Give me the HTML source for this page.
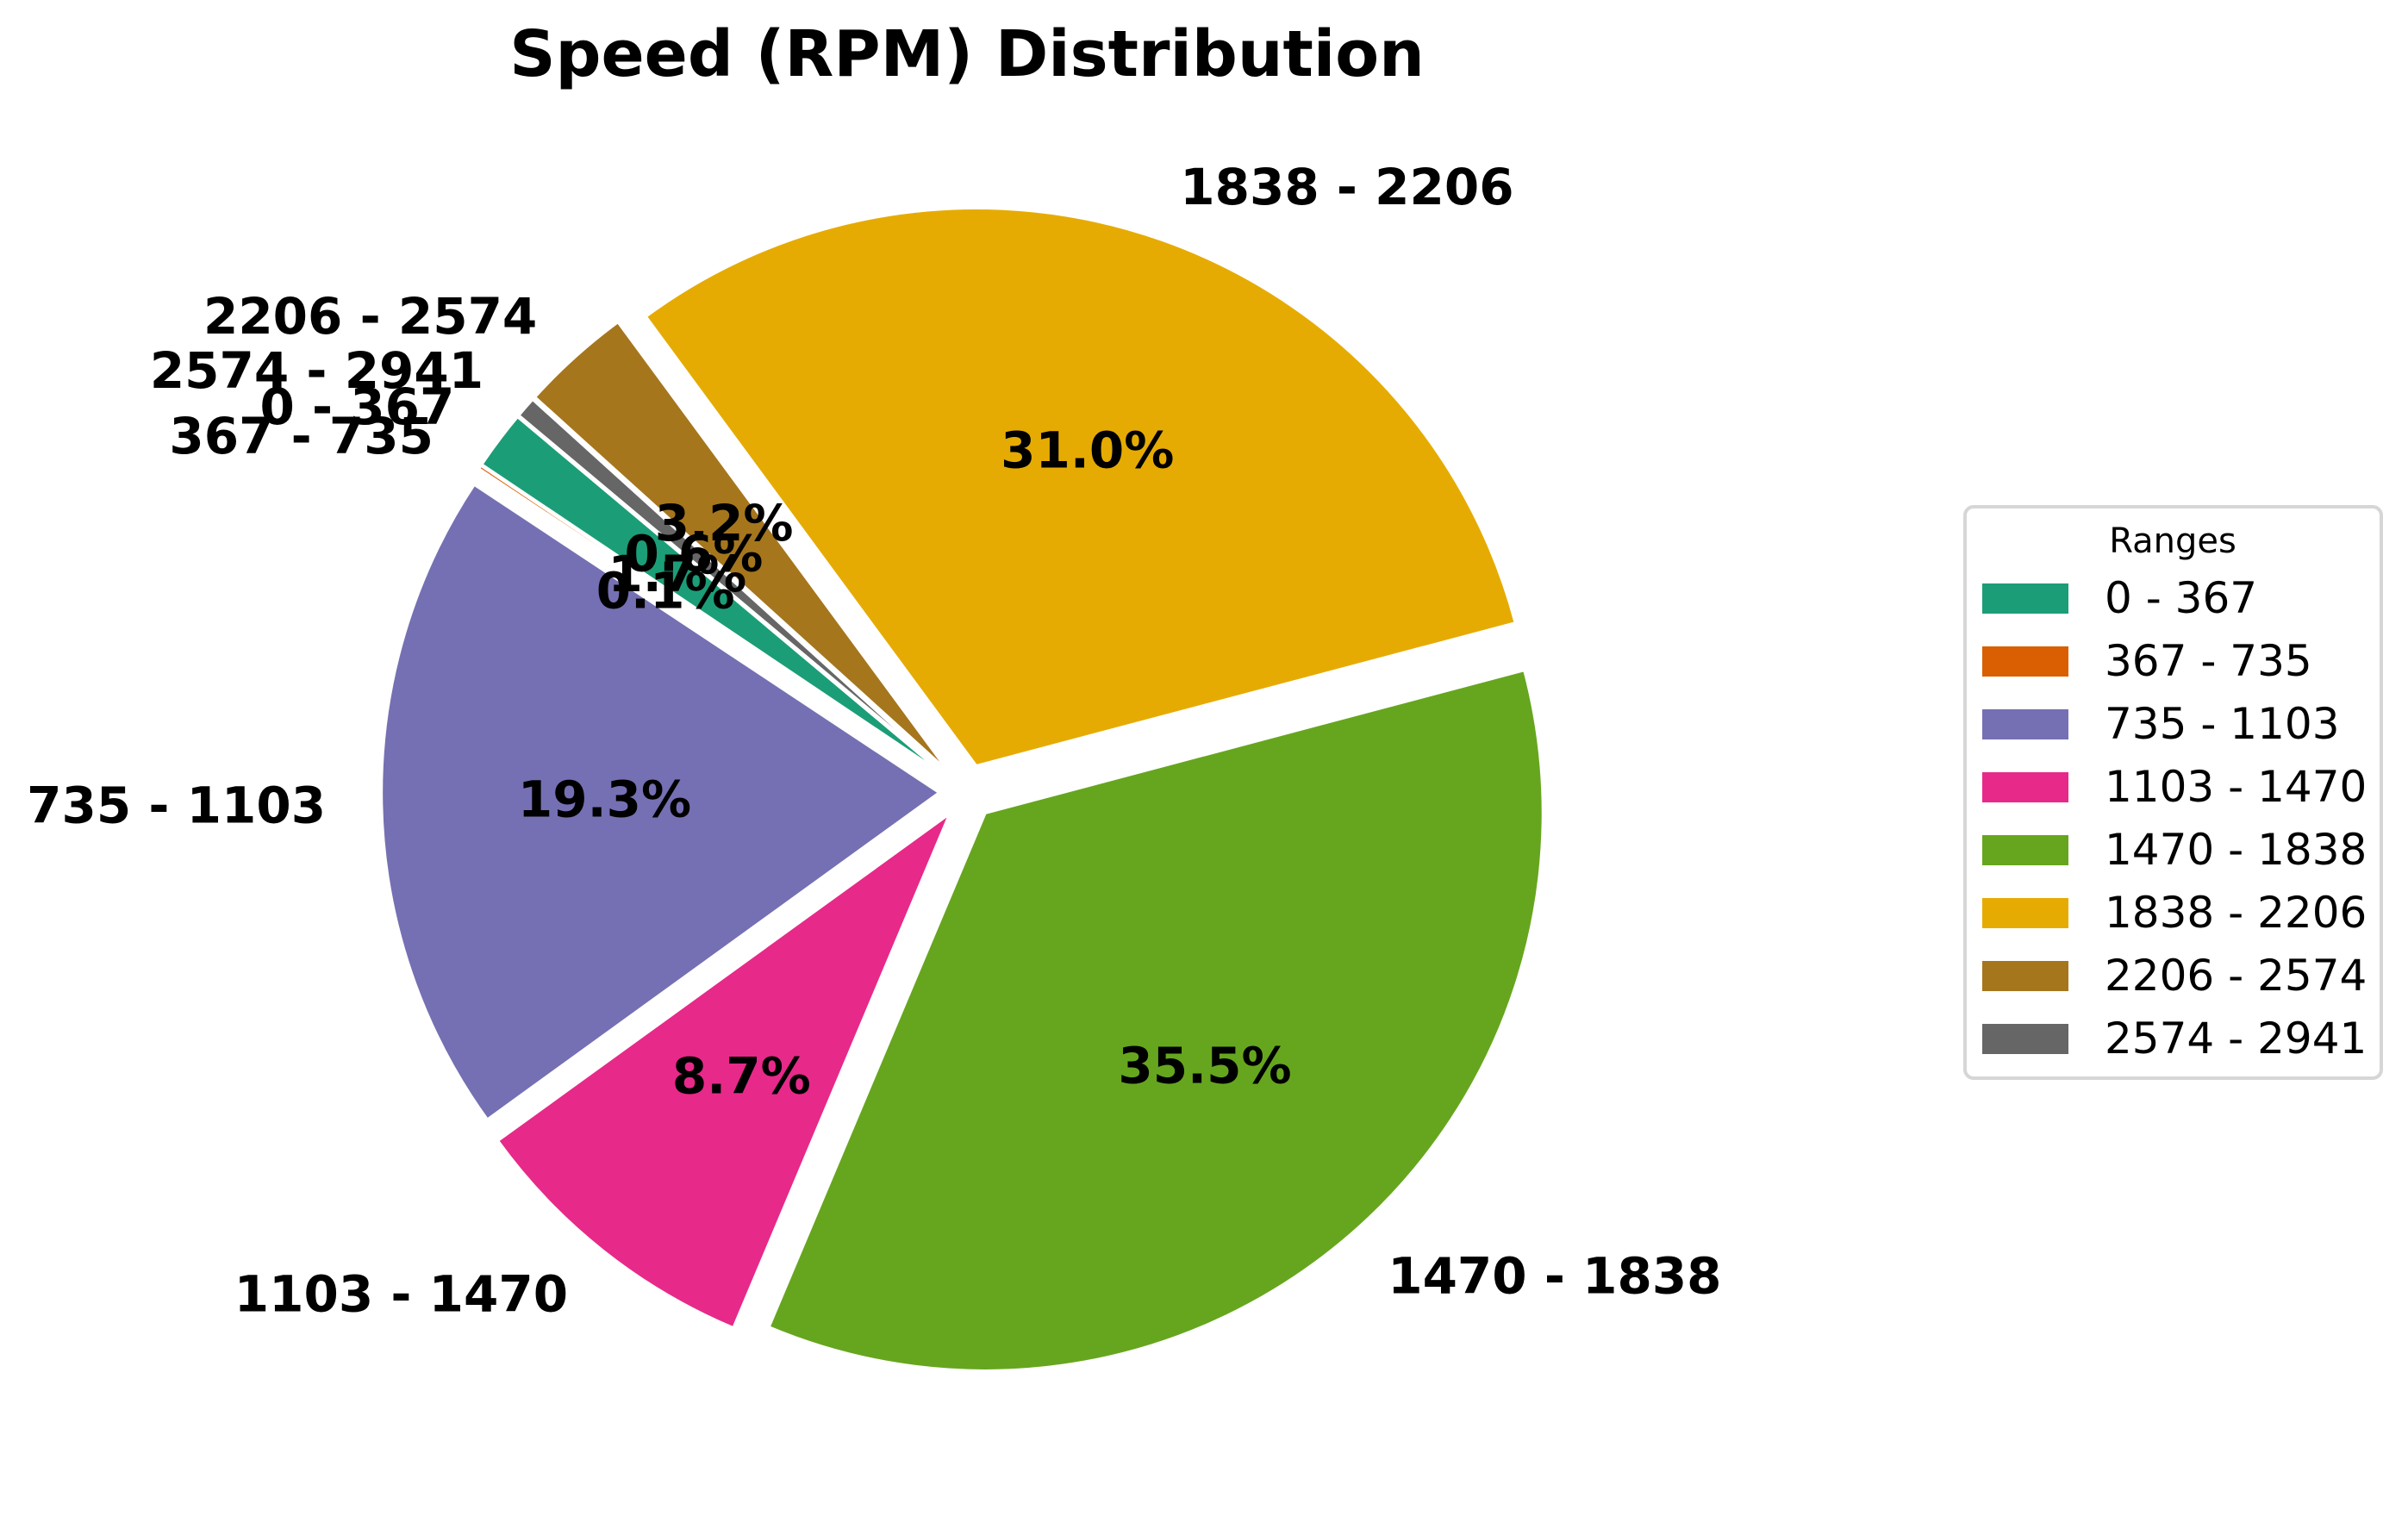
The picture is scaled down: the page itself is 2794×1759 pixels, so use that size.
<!DOCTYPE html>
<html><head><meta charset="utf-8"><style>
html,body{margin:0;padding:0;background:#fff;}
svg{display:block;font-family:"DejaVu Sans","Liberation Sans",sans-serif;}
</style></head><body>
<svg id="chart" width="2794" height="1759" viewBox="0 0 2794 1759" xmlns="http://www.w3.org/2000/svg">
<rect width="2794" height="1759" fill="#fff"/>
<text x="1122" y="88" text-anchor="middle" font-size="74" font-weight="bold">Speed (RPM) Distribution</text>
<g id="slices"></g>
<g id="labels"></g>
<g id="legend">
<rect x="2280" y="588" width="483" height="663" rx="10" fill="#fff" stroke="#d6d6d6" stroke-width="4"/>
<text x="2521" y="641" text-anchor="middle" font-size="40">Ranges</text>
</g>
</svg>
<script>
const categories = ["0 - 367","367 - 735","735 - 1103","1103 - 1470","1470 - 1838","1838 - 2206","2206 - 2574","2574 - 2941"];
const values = [1.7, 0.1, 19.3, 8.7, 35.5, 31.0, 3.2, 0.6];
const pctLabels = ["1.7%","0.1%","19.3%","8.7%","35.5%","31.0%","3.2%","0.6%"];
const colors = ["#1b9e77","#d95f02","#7570b3","#e7298a","#66a61e","#e6ab02","#a6761d","#666666"];

const NS = "http://www.w3.org/2000/svg";
const cx = 1122, cy = 919, sx = 647, sy = 647, startAngle = 140, explode = 0.05;
function px(u){ return cx + u * sx; }
function py(v){ return cy - v * sy; }
const total = values.reduce((a,b)=>a+b,0);
const gS = document.getElementById('slices');
const gL = document.getElementById('labels');
const gLeg = document.getElementById('legend');
let a0 = startAngle;
values.forEach((v,i)=>{
  const span = v/total*360;
  const a1 = a0 + span;
  const mid = (a0+a1)/2*Math.PI/180;
  const ox = explode*Math.cos(mid), oy = explode*Math.sin(mid);
  const r0 = a0*Math.PI/180, r1 = a1*Math.PI/180;
  const large = span > 180 ? 1 : 0;
  const d = `M${px(ox)},${py(oy)} L${px(ox+Math.cos(r0))},${py(oy+Math.sin(r0))} A${sx},${sy} 0 ${large} 0 ${px(ox+Math.cos(r1))},${py(oy+Math.sin(r1))} Z`;
  const p = document.createElementNS(NS,'path');
  p.setAttribute('d', d);
  p.setAttribute('fill', colors[i]);
  p.setAttribute('stroke', '#fff');
  p.setAttribute('stroke-width', '3');
  
  
  gS.appendChild(p);

  const lx = ox + 1.1*Math.cos(mid), ly = oy + 1.1*Math.sin(mid);
  const t = document.createElementNS(NS,'text');
  t.setAttribute('x', px(lx));
  t.setAttribute('y', py(ly));
  t.setAttribute('dominant-baseline', 'central');
  t.setAttribute('text-anchor', lx > 0 ? 'start' : 'end');
  t.setAttribute('font-size', '58');
  t.setAttribute('font-weight', 'bold');
  t.textContent = categories[i];
  
  
  gL.appendChild(t);

  const qx = ox + 0.6*Math.cos(mid), qy = oy + 0.6*Math.sin(mid);
  const q = document.createElementNS(NS,'text');
  q.setAttribute('x', px(qx));
  q.setAttribute('y', py(qy));
  q.setAttribute('dominant-baseline', 'central');
  q.setAttribute('text-anchor', 'middle');
  q.setAttribute('font-size', '58');
  q.setAttribute('font-weight', 'bold');
  q.textContent = pctLabels[i];
  
  
  gL.appendChild(q);

  const yc = 694 + i*73;
  const lr = document.createElementNS(NS,'rect');
  lr.setAttribute('x', 2300); lr.setAttribute('y', yc-17);
  lr.setAttribute('width', 100); lr.setAttribute('height', 35);
  lr.setAttribute('fill', colors[i]);
  
  
  gLeg.appendChild(lr);
  const lt = document.createElementNS(NS,'text');
  lt.setAttribute('x', 2442); lt.setAttribute('y', yc);
  lt.setAttribute('dominant-baseline', 'central');
  lt.setAttribute('font-size', '50');
  lt.textContent = categories[i];
  
  
  gLeg.appendChild(lt);
  a0 = a1;
});
</script>
</body></html>
